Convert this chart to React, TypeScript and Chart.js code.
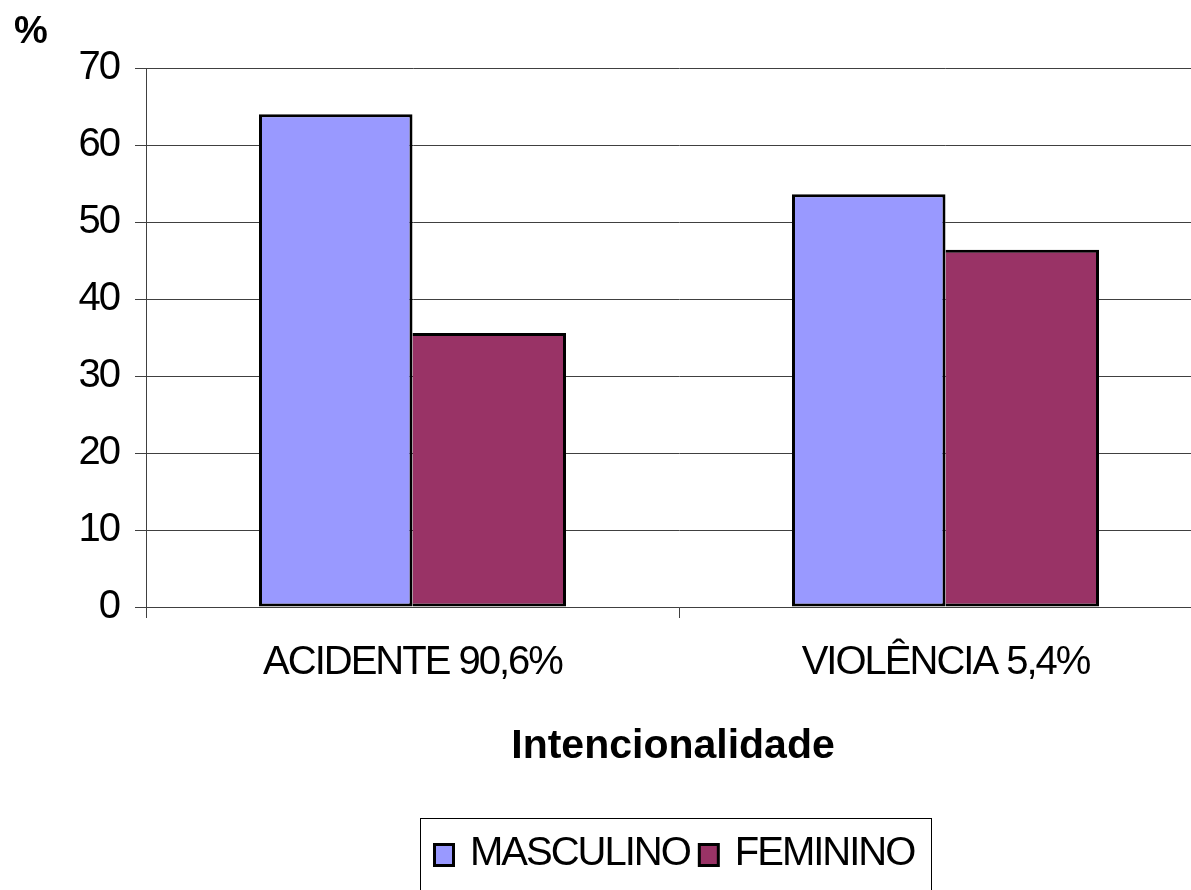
import React, { useEffect, useRef } from "react";
import { Chart, registerables } from "chart.js";

Chart.register(...registerables);

const categories = ["ACIDENTE 90,6%", "VIOLÊNCIA 5,4%"];
const seriesNames = ["MASCULINO", "FEMININO"];
const masculino = [64.0, 53.6];
const feminino = [35.6, 46.4];
const seriesColors = ["#9999FF", "#993366"];
const yMin = 0;
const yMax = 70;
const yStep = 10;
const yTitle = "%";
const xTitle = "Intencionalidade";

const FONT = '"Liberation Sans", Arial, sans-serif';

const extras = {
  id: "extras",
  beforeDraw(chart: any) {
    chart.ctx.letterSpacing = "-2px";
  },
  afterDraw(chart: any) {
    const ctx = chart.ctx as CanvasRenderingContext2D;
    ctx.save();
    (ctx as any).letterSpacing = "0px";
    ctx.fillStyle = "#000";
    ctx.textAlign = "left";
    ctx.textBaseline = "alphabetic";
    ctx.font = `bold 38px ${FONT}`;
    ctx.fillText(yTitle, 14, 43);

    ctx.font = `bold 41px ${FONT}`;
    ctx.textAlign = "center";
    ctx.fillText(xTitle, 673, 758);

    // legend
    ctx.strokeStyle = "#000";
    ctx.lineWidth = 1;
    ctx.strokeRect(420.5, 818.5, 511, 120);
    ctx.font = `40px ${FONT}`;
    (ctx as any).letterSpacing = "-2px";
    ctx.textAlign = "left";
    let x = 433;
    chart.data.datasets.forEach((ds: any) => {
      ctx.fillStyle = ds.backgroundColor;
      ctx.fillRect(x + 1.5, 844.5, 19, 21);
      ctx.lineWidth = 3;
      ctx.strokeStyle = "#000";
      ctx.strokeRect(x + 1.5, 844.5, 19, 21);
      ctx.fillStyle = "#000";
      const tx = x + 37;
      ctx.fillText(ds.label, tx, 865);
      x = tx + ctx.measureText(ds.label).width + 8;
    });
    ctx.restore();
  },
};

export default function App() {
  const ref = useRef<HTMLCanvasElement>(null);
  useEffect(() => {
    if (!ref.current) return;
    const chart = new Chart(ref.current, {
      type: "bar",
      data: {
        labels: categories,
        datasets: [
          {
            label: seriesNames[0],
            data: masculino,
            backgroundColor: seriesColors[0],
            borderColor: "#000",
            borderWidth: { top: 3, left: 3, right: 3, bottom: 3 },
            borderSkipped: false,
            categoryPercentage: 0.576,
            barPercentage: 1,
          },
          {
            label: seriesNames[1],
            data: feminino,
            backgroundColor: seriesColors[1],
            borderColor: "#000",
            borderWidth: { top: 3, left: 0, right: 3, bottom: 3 },
            borderSkipped: false,
            categoryPercentage: 0.576,
            barPercentage: 1,
          },
        ],
      },
      options: {
        animation: false,
        responsive: false,
        devicePixelRatio: 1,
        layout: { padding: { left: 0, top: 68, right: 28, bottom: 0 } },
        plugins: { legend: { display: false }, tooltip: { enabled: false } },
        scales: {
          x: {
            afterFit: (s: any) => {
              s.height = 283;
            },
            grid: {
              offset: true,
              drawOnChartArea: false,
              drawTicks: true,
              tickLength: 11,
              color: "#404040",
            },
            border: { color: "#404040", width: 1 },
            ticks: {
              color: "#000",
              font: { family: FONT, size: 40 },
              padding: 21,
              maxRotation: 0,
              autoSkip: false,
            },
          },
          y: {
            min: yMin,
            max: yMax,
            afterFit: (s: any) => {
              s.width = 146;
            },
            grid: { color: "#404040", tickLength: 11, lineWidth: 1 },
            border: { color: "#404040", width: 1 },
            ticks: {
              stepSize: yStep,
              color: "#000",
              font: { family: FONT, size: 40 },
              padding: 16,
            },
          },
        },
      },
      plugins: [extras],
    });
    return () => chart.destroy();
  }, []);
  return (
    <div
      style={{
        position: "fixed",
        left: 0,
        top: 0,
        width: 1191,
        height: 890,
        overflow: "hidden",
        background: "#fff",
      }}
    >
      <canvas ref={ref} width={1240} height={890} style={{ display: "block" }} />
    </div>
  );
}
